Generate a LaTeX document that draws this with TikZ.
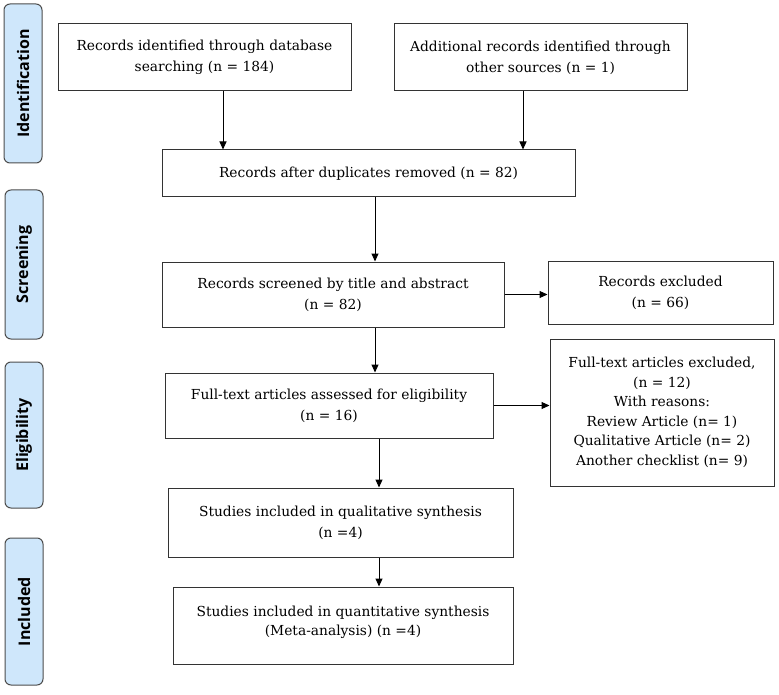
\documentclass[tikz,border=0pt]{standalone}
\usepackage{fontspec}
\setmainfont{DejaVu Serif}
\newfontfamily\stagefont{Open Sans}
\usepackage{xcolor}
\definecolor{stageblue}{RGB}{207,231,251}
\usetikzlibrary{positioning,arrows.meta}

\begin{document}
\begin{tikzpicture}[x=1pt, y=-1pt, line width=1pt, >={Triangle[length=8pt,width=7pt]},
    main/.style = {draw=black!80, align=center, inner sep=0pt, font=\fontsize{13.8}{21}\selectfont},
    stage/.style = {draw=black!70, fill=stageblue, rounded corners=6pt, rotate=90, minimum height=38pt, inner sep=0pt, font=\stagefont\bfseries\fontsize{16}{18}\selectfont}]
    \useasboundingbox (0,0) rectangle (779,695);

    \node[stage, minimum width=159pt] (id) at (23,83.5) {Identification};
    \node[stage, minimum width=149pt] (scr) at (24,264.5) {Screening};
    \node[stage, minimum width=146pt] (elig) at (24,435) {Eligibility};
    \node[stage, minimum width=147pt] (incl) at (24,611.5) {Included};

    \node[main, minimum width=293pt, minimum height=67pt] (1) at (204.5,57.5) {Records identified through database\\ searching (n = 184)};
    \node[main, minimum width=293pt, minimum height=67pt] (2) at (540.5,57.5) {Additional records identified through\\ other sources (n = 1)};
    \node[main, minimum width=413pt, minimum height=47pt] (3) at (368.5,173.5) {Records after duplicates removed (n = 82)};
    \node[main, minimum width=342pt, minimum height=65pt] (4) at (333,294.5) {Records screened by title and abstract\\ (n = 82)};
    \node[main, minimum width=225pt, minimum height=63pt] (5) at (660.5,292.5) {Records excluded\\ (n = 66)};
    \node[main, minimum width=328pt, minimum height=65pt] (6) at (329,405.5) {Full-text articles assessed for eligibility\\ (n = 16)};
    \node[main, minimum width=224pt, minimum height=147pt, font=\fontsize{13.8}{19.5}\selectfont] (7) at (662,412.5) {Full-text articles excluded,\\ (n = 12)\\ With reasons:\\ Review Article (n= 1)\\ Qualitative Article (n= 2)\\ Another checklist (n= 9)};
    \node[main, minimum width=345pt, minimum height=69pt] (8) at (340.5,522.5) {Studies included in qualitative synthesis\\ (n =4)};
    \node[main, minimum width=340pt, minimum height=77pt, font=\fontsize{13.8}{19}\selectfont] (9) at (343,625.5) {Studies included in quantitative synthesis\\ (Meta-analysis) (n =4)\\[-9pt]\mbox{}};

    \draw[->] ([xshift=18.5pt]1.south) -- ([xshift=18.5pt]1.south |- 3.north);
    \draw[->] ([xshift=-17.5pt]2.south) -- ([xshift=-17.5pt]2.south |- 3.north);
    \draw[->] ([xshift=6.5pt]3.south) -- ([xshift=6.5pt]3.south |- 4.north);
    \draw[->] (4.east) -- (4.east -| 5.west);
    \draw[->] ([xshift=42pt]4.south) -- ([xshift=42pt]4.south |- 6.north);
    \draw[->] (6.east) -- (6.east -| 7.west);
    \draw[->] ([xshift=50pt]6.south) -- ([xshift=50pt]6.south |- 8.north);
    \draw[->] ([xshift=38.5pt]8.south) -- ([xshift=38.5pt]8.south |- 9.north);
\end{tikzpicture}
\end{document}
